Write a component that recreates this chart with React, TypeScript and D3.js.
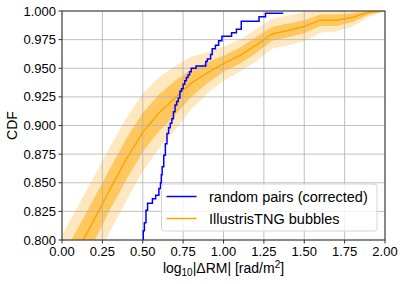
import * as d3 from 'd3';

// ECDF of random pairs (corrected)
const blueX = [0.50, 0.503, 0.51, 0.52, 0.53, 0.56, 0.58, 0.60, 0.61, 0.615, 0.62, 0.63, 0.64, 0.65, 0.66, 0.67, 0.68, 0.69, 0.70, 0.71, 0.72, 0.73, 0.74, 0.75, 0.76, 0.77, 0.78, 0.79, 0.80, 0.83, 0.89, 0.90, 0.92, 0.93, 0.95, 0.97, 0.99, 1.05, 1.08, 1.11, 1.22, 1.26, 1.37];
const blueY = [0.800, 0.808, 0.815, 0.826, 0.832, 0.836, 0.839, 0.845, 0.850, 0.857, 0.864, 0.874, 0.884, 0.893, 0.898, 0.902, 0.906, 0.912, 0.918, 0.921, 0.924, 0.930, 0.932, 0.936, 0.939, 0.942, 0.944, 0.947, 0.950, 0.952, 0.956, 0.958, 0.962, 0.967, 0.970, 0.974, 0.978, 0.981, 0.984, 0.991, 0.995, 0.998, 0.998];

// IllustrisTNG bubbles: median and two bands on a grid in log10|dRM|
const tngX = [0.0, 0.1, 0.2, 0.3, 0.4, 0.5, 0.6, 0.7, 0.8, 0.9, 1.0, 1.1, 1.2, 1.3, 1.4, 1.5, 1.6, 1.7, 1.8, 1.9, 2.0];
const tngMedian = [0.766, 0.792, 0.818, 0.845, 0.871, 0.894, 0.911, 0.924, 0.937, 0.946, 0.954, 0.961, 0.970, 0.980, 0.983, 0.9865, 0.992, 0.992, 0.9945, 0.999, 1.0];
const tngInnerLo = [0.747, 0.773, 0.799, 0.827, 0.853, 0.877, 0.895, 0.909, 0.925, 0.937, 0.947, 0.954, 0.963, 0.974, 0.977, 0.9805, 0.987, 0.987, 0.9905, 0.997, 1.0];
const tngInnerHi = [0.785, 0.811, 0.837, 0.863, 0.889, 0.911, 0.927, 0.939, 0.949, 0.955, 0.961, 0.968, 0.977, 0.986, 0.989, 0.992, 0.997, 0.997, 0.998, 1.0, 1.0];
const tngOuterLo = [0.728, 0.754, 0.780, 0.808, 0.835, 0.860, 0.880, 0.896, 0.914, 0.928, 0.939, 0.947, 0.956, 0.967, 0.970, 0.9735, 0.981, 0.982, 0.9865, 0.995, 1.0];
const tngOuterHi = [0.804, 0.830, 0.856, 0.882, 0.907, 0.928, 0.942, 0.952, 0.960, 0.964, 0.969, 0.975, 0.984, 0.993, 0.996, 0.999, 1.0, 1.0, 1.0, 1.0, 1.0];

const xTicks = [0, 0.25, 0.5, 0.75, 1.0, 1.25, 1.5, 1.75, 2.0];
const yTicks = [0.8, 0.825, 0.85, 0.875, 0.9, 0.925, 0.95, 0.975, 1.0];

const width = 404;
const height = 284;
const margin = { top: 11, right: 19, bottom: 44, left: 62 };
const font = '"Liberation Sans", Arial, Helvetica, sans-serif';

export default function App() {
  const x = d3.scaleLinear().domain([0, 2]).range([margin.left, width - margin.right]);
  const y = d3.scaleLinear().domain([0.8, 1.0]).range([height - margin.bottom, margin.top]);
  const [x0, x1] = x.range();
  const [y0, y1] = y.range();

  const band = (lo: number[], hi: number[]) =>
    d3.area<number>()
      .x((d) => x(d))
      .y0((_, i) => y(lo[i]))
      .y1((_, i) => y(hi[i]))(tngX) || '';

  const median = d3.line<number>().x((d) => x(d)).y((_, i) => y(tngMedian[i]))(tngX) || '';
  const blue = d3.line<number>()
    .curve(d3.curveStepAfter)
    .x((d) => x(d))
    .y((_, i) => y(blueY[i]))(blueX) || '';

  return (
    <div style={{ position: 'absolute', left: 0, top: 0 }}>
      <svg width={width} height={height} style={{ display: 'block', background: '#fff' }}>
        <defs>
          <clipPath id="plot">
            <rect x={x0} y={y1} width={x1 - x0} height={y0 - y1} />
          </clipPath>
        </defs>
        <g clipPath="url(#plot)">
          <path d={band(tngOuterLo, tngOuterHi)} fill="orange" fillOpacity={0.25} />
          <path d={band(tngInnerLo, tngInnerHi)} fill="orange" fillOpacity={0.5} />
        </g>
        {/* grid */}
        <g stroke="#b0b0b0" strokeWidth={0.8}>
          {xTicks.map((t) => (
            <line key={'gx' + t} x1={x(t)} x2={x(t)} y1={y0} y2={y1} />
          ))}
          {yTicks.map((t) => (
            <line key={'gy' + t} x1={x0} x2={x1} y1={y(t)} y2={y(t)} />
          ))}
        </g>
        <g clipPath="url(#plot)">
          <path d={median} fill="none" stroke="orange" strokeWidth={1.5} />
          <path d={blue} fill="none" stroke="blue" strokeWidth={1.5} />
        </g>
        {/* spines */}
        <rect x={x0} y={y1} width={x1 - x0} height={y0 - y1} fill="none" stroke="#333" strokeWidth={1} />
        {/* ticks */}
        <g fontFamily={font} fontSize={13} fill="#000">
          {xTicks.map((t) => (
            <g key={'tx' + t}>
              <line x1={x(t)} x2={x(t)} y1={y0} y2={y0 + 3.5} stroke="#333" />
              <text x={x(t)} y={y0 + 15.5} textAnchor="middle">{t.toFixed(2)}</text>
            </g>
          ))}
          {yTicks.map((t) => (
            <g key={'ty' + t}>
              <line x1={x0 - 3.5} x2={x0} y1={y(t)} y2={y(t)} stroke="#333" />
              <text x={x0 - 6} y={y(t) + 4.6} textAnchor="end">{t.toFixed(3)}</text>
            </g>
          ))}
        </g>
        {/* axis labels */}
        <text x={(x0 + x1) / 2} y={273} textAnchor="middle" fontFamily={font} fontSize={14}>
          log<tspan fontSize={10} dy={3}>10</tspan>
          <tspan dy={-3}>|ΔRM| [rad/m</tspan>
          <tspan fontSize={10} dy={-5}>2</tspan>
          <tspan dy={5}>]</tspan>
        </text>
        <text transform={`translate(16.5,${(y0 + y1) / 2}) rotate(-90)`} textAnchor="middle" fontFamily={font} fontSize={14}>
          CDF
        </text>
        {/* legend */}
        <g fontFamily={font} fontSize={14.5}>
          <rect x={161.5} y={184} width={215.5} height={47} rx={3} fill="#fff" fillOpacity={0.8} stroke="#d4d4d4" strokeWidth={1} />
          <line x1={166.5} x2={196.5} y1={196.5} y2={196.5} stroke="blue" strokeWidth={1.5} />
          <text x={209} y={202}>random pairs (corrected)</text>
          <line x1={166.5} x2={196.5} y1={218.5} y2={218.5} stroke="orange" strokeWidth={1.5} />
          <text x={209} y={224}>IllustrisTNG bubbles</text>
        </g>
      </svg>
    </div>
  );
}
